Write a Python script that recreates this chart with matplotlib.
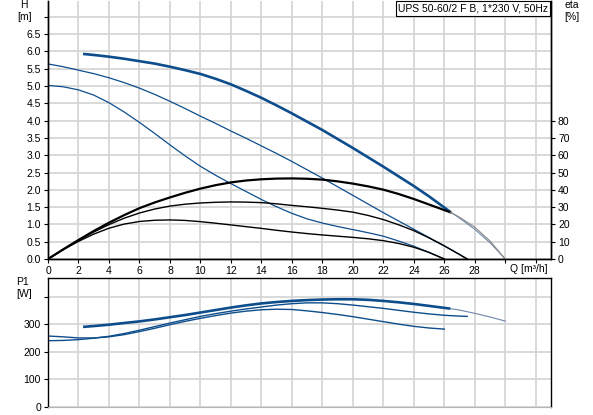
import numpy as np
import matplotlib.pyplot as plt
import matplotlib as mpl

mpl.rcParams['font.family'] = ['Liberation Sans', 'DejaVu Sans']
fs = 7.5  # default font size

blue = '#0d4d8c'
pale = '#6f86aa'
grid_c = '#d3d3d3'

title = 'UPS 50-60/2 F B, 1*230 V, 50Hz'

# H curves [m] vs Q [m3/h]
q_h_max = [2.3, 3, 4, 5, 6, 7, 8, 9, 10, 11, 12, 13, 14, 15, 16, 17, 18, 19, 20, 21, 22, 23,
           24, 25, 26.4]
h_max = [5.93, 5.90, 5.85, 5.79, 5.72, 5.65, 5.56, 5.46, 5.35, 5.21, 5.05, 4.86, 4.66, 4.44,
         4.21, 3.97, 3.73, 3.47, 3.21, 2.94, 2.67, 2.39, 2.11, 1.81, 1.36]
q_h_max_ext = [26.4, 27, 28, 29, 30]
h_max_ext = [1.36, 1.18, 0.86, 0.47, 0.0]

q_h_mid = [0, 1, 2, 3, 4, 5, 6, 7, 8, 9, 10, 11, 12, 13, 14, 15, 16, 17, 18, 19, 20, 21, 22,
           23, 24, 25, 26, 27, 27.5]
h_mid = [5.64, 5.56, 5.46, 5.36, 5.24, 5.10, 4.94, 4.76, 4.56, 4.35, 4.13, 3.92, 3.70, 3.49,
         3.27, 3.05, 2.82, 2.58, 2.34, 2.09, 1.84, 1.59, 1.34, 1.10, 0.86, 0.62, 0.38, 0.13, 0.0]

q_h_low = [0, 1, 2, 3, 4, 5, 6, 7, 8, 9, 10, 11, 12, 13, 14, 15, 16, 17, 18, 19, 20, 21, 22,
           23, 24, 25, 26]
h_low = [5.02, 4.98, 4.89, 4.74, 4.52, 4.25, 3.95, 3.63, 3.30, 2.98, 2.68, 2.42, 2.18, 1.95,
         1.72, 1.51, 1.32, 1.16, 1.04, 0.94, 0.85, 0.76, 0.66, 0.52, 0.37, 0.19, 0.0]

# efficiency curves [%]
q_eta_max = [0, 1, 2, 3, 4, 5, 6, 7, 8, 9, 10, 11, 12, 13, 14, 15, 16, 17, 18, 19, 20, 21, 22,
             23, 24, 25, 26.4]
eta_max = [0, 5.6, 11.0, 16.2, 21.0, 25.4, 29.4, 32.7, 35.6, 38.3, 40.7, 42.7, 44.3, 45.4,
           46.1, 46.5, 46.6, 46.4, 45.9, 44.9, 43.6, 42.0, 40.1, 37.6, 34.7, 31.5, 27.0]
q_eta_max_ext = [26.4, 27, 28, 29, 30]
eta_max_ext = [27.0, 24.2, 18.4, 10.4, 0]

q_eta_mid = [0, 1, 2, 3, 4, 5, 6, 7, 8, 9, 10, 11, 12, 13, 14, 15, 16, 17, 18, 19, 20, 21, 22,
             23, 24, 25, 26, 27, 27.5]
eta_mid = [0, 5.5, 10.8, 15.6, 19.9, 23.6, 26.6, 28.9, 30.6, 31.7, 32.4, 32.8, 33.0, 32.9,
           32.6, 31.9, 31.0, 30.2, 29.3, 28.3, 27.1, 25.2, 22.8, 19.8, 16.4, 12.2, 7.6, 2.6, 0]

q_eta_low = [0, 1, 2, 3, 4, 5, 6, 7, 8, 9, 10, 11, 12, 13, 14, 15, 16, 17, 18, 19, 20, 21, 22,
             23, 24, 25, 26]
eta_low = [0, 5.4, 10.2, 14.4, 17.8, 20.2, 21.7, 22.4, 22.6, 22.3, 21.6, 20.7, 19.7, 18.7,
           17.7, 16.6, 15.6, 14.7, 13.9, 13.2, 12.5, 11.7, 10.6, 9.0, 6.8, 3.8, 0]

# power curves P1 [W]
q_p_max = [2.3, 3, 4, 5, 6, 7, 8, 9, 10, 11, 12, 13, 14, 15, 16, 17, 18, 19, 20, 21, 22, 23,
           24, 25, 26.4]
p_max = [290, 293, 298, 304, 310, 317, 325, 333, 342, 351, 360, 368, 375, 380, 384, 387, 389,
         390, 390, 388, 384, 379, 373, 366, 356]
q_p_max_ext = [26.4, 27, 28, 29, 30]
p_max_ext = [356, 351, 339, 326, 311]

q_p_mid = [0, 1, 2, 3, 4, 5, 6, 7, 8, 9, 10, 11, 12, 13, 14, 15, 16, 17, 18, 19, 20, 21, 22,
           23, 24, 25, 26, 27, 27.5]
p_mid = [240, 241, 244, 249, 256, 266, 278, 291, 304, 316, 328, 338, 347, 355, 362, 369, 374,
         377, 377, 374, 369, 363, 357, 350, 343, 337, 332, 329, 328]

q_p_low = [0, 1, 2, 3, 4, 5, 6, 7, 8, 9, 10, 11, 12, 13, 14, 15, 16, 17, 18, 19, 20, 21, 22,
           23, 24, 25, 26]
p_low = [257, 254, 250, 250, 254, 262, 273, 285, 298, 310, 321, 331, 340, 347, 352, 354, 353,
         348, 342, 335, 327, 318, 309, 300, 292, 286, 282]

q_ticks = list(range(0, 33, 2))
q_labels = [str(v) for v in range(0, 29, 2)] + ['', '']
h_ticks = np.arange(0, 7.01, 0.5)
h_labels = ['%.1f' % v for v in h_ticks[:-1]] + ['']
eta_ticks = list(range(0, 81, 10))
p_ticks = [0, 100, 200, 300, 400]
p_labels = ['0', '100', '200', '300', '']

W, H = 593., 415.
xmax = 33.0
hmax = 7.46
pmax = 467.

fig = plt.figure(figsize=(W / 100, H / 100), dpi=100)
ax1 = fig.add_axes([48 / W, 1 - 259 / H, 503 / W, 258 / H])
ax2 = ax1.twinx()
ax3 = fig.add_axes([48 / W, 1 - 407 / H, 503 / W, 129 / H])

# frame of the upper panel
ax1.set_xlim(0, xmax)
ax1.set_ylim(0, hmax)
ax2.set_ylim(0, hmax * 20)
ax1.set_xticks(q_ticks)
ax1.set_xticklabels(q_labels)
ax1.set_yticks(h_ticks)
ax1.set_yticklabels(h_labels)
ax2.set_yticks(eta_ticks)
ax1.grid(True, color=grid_c, lw=1.2)
ax1.set_axisbelow(True)
ax1.tick_params(labelsize=fs, length=3, width=0.8, pad=2)
ax2.tick_params(labelsize=fs, length=3, width=0.8, pad=2)
for a in (ax1, ax2):
    a.spines['top'].set_visible(False)
    for s in ('left', 'right', 'bottom'):
        a.spines[s].set_linewidth(1.0)

# frame of the lower panel
ax3.set_xlim(0, xmax)
ax3.set_ylim(0, pmax)
ax3.set_xticks(q_ticks)
ax3.set_xticklabels([])
ax3.set_yticks(p_ticks)
ax3.set_yticklabels(p_labels)
ax3.grid(True, color=grid_c, lw=1.2)
ax3.set_axisbelow(True)
ax3.tick_params(axis='y', labelsize=fs, length=3, width=0.8, pad=2)
ax3.tick_params(axis='x', length=0)
ax3.spines['bottom'].set_color('#b5b5b5')
for s in ('left', 'right', 'top'):
    ax3.spines[s].set_linewidth(1.0)

# head curves
ax1.plot(q_h_max, h_max, color=blue, lw=1.9, solid_capstyle='butt')
ax1.plot(q_h_max_ext, h_max_ext, color=pale, lw=0.8)
ax1.plot(q_h_mid, h_mid, color=blue, lw=0.9)
ax1.plot(q_h_low, h_low, color=blue, lw=0.9)

# efficiency curves
ax2.plot(q_eta_max, eta_max, color='black', lw=1.6)
ax2.plot(q_eta_max_ext, eta_max_ext, color='#8a8a8a', lw=0.8)
ax2.plot(q_eta_mid, eta_mid, color='black', lw=1.0)
ax2.plot(q_eta_low, eta_low, color='black', lw=1.0)

# power curves
ax3.plot(q_p_max, p_max, color=blue, lw=1.9, solid_capstyle='butt')
ax3.plot(q_p_max_ext, p_max_ext, color=pale, lw=0.8)
ax3.plot(q_p_mid, p_mid, color=blue, lw=1.0)
ax3.plot(q_p_low, p_low, color=blue, lw=1.0)

# axis captions
fig.text(24 / W, 1 - 5 / H, 'H', fontsize=fs, ha='center', va='center')
fig.text(25 / W, 1 - 17 / H, '[m]', fontsize=fs, ha='center', va='center')
fig.text(572 / W, 1 - 5 / H, 'eta', fontsize=fs, ha='center', va='center')
fig.text(572 / W, 1 - 17 / H, '[%]', fontsize=fs, ha='center', va='center')
fig.text(22.5 / W, 1 - 282 / H, 'P1', fontsize=fs, ha='center', va='center')
fig.text(23.7 / W, 1 - 294 / H, '[W]', fontsize=fs, ha='center', va='center')
fig.text(510 / W, 1 - 269 / H, 'Q [m³/h]', fontsize=fs, ha='left', va='center')
fig.text(548 / W, 1 - 8.5 / H, title, fontsize=fs, ha='right', va='center',
         bbox=dict(boxstyle='square,pad=0.22', fc='white', ec='black', lw=0.8))

fig.savefig('out.png', dpi=100)
plt.close(fig)
